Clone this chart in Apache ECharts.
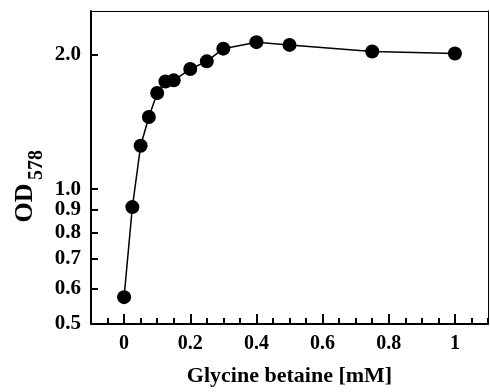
<!DOCTYPE html>
<html><head><meta charset="utf-8">
<script src="https://cdn.jsdelivr.net/npm/echarts@6/dist/echarts.min.js"></script>
<style>html,body{margin:0;padding:0;background:#fff}#c{width:490px;height:392px}</style>
</head><body><div id="c"></div>
<script>
const conc = [0, 0.025, 0.05, 0.075, 0.1, 0.125, 0.15, 0.2, 0.25, 0.3, 0.4, 0.5, 0.75, 1.0];
const od = [0.574, 0.912, 1.25, 1.45, 1.64, 1.74, 1.75, 1.855, 1.93, 2.06, 2.13, 2.10, 2.03, 2.01];
const xTicks = [0, 0.2, 0.4, 0.6, 0.8, 1];
const yTicks = [0.5, 0.6, 0.7, 0.8, 0.9, 1.0, 2.0];
const xTitle = 'Glycine betaine [mM]';

const font = '"Liberation Serif", "Times New Roman", serif';
const chart = echarts.init(document.getElementById('c'), null, {renderer: 'canvas'});
chart.setOption({
  animation: false,
  backgroundColor: '#fff',
  grid: {left: 91, right: 2, top: 11, bottom: 60, show: false},
  xAxis: [{
    type: 'value', min: -0.1, max: 1.1, position: 'bottom', offset: 0,
    axisLine: {show: true, onZero: false, lineStyle: {color: '#000', width: 2}},
    axisTick: {show: true, inside: true, length: 10, customValues: xTicks, lineStyle: {color: '#000', width: 2}},
    axisLabel: {show: true, customValues: xTicks, margin: 10, color: '#000', fontFamily: font, fontWeight: 'bold', fontSize: 20,
      formatter: v => String(v)},
    splitLine: {show: false},
    name: xTitle, nameLocation: 'middle', nameGap: 41,
    nameTextStyle: {color: '#000', fontFamily: font, fontWeight: 'bold', fontSize: 22}
  }, {
    type: 'value', min: -0.1, max: 1.1, interval: 0.05, position: 'bottom', offset: 0,
    axisLine: {show: false, onZero: false},
    axisTick: {show: true, inside: true, length: 6, lineStyle: {color: '#000', width: 2}},
    axisLabel: {show: false},
    splitLine: {show: false}
  }, {
    type: 'value', min: -0.1, max: 1.1, position: 'top',
    axisLine: {show: true, onZero: false, lineStyle: {color: '#000', width: 1}},
    axisTick: {show: false}, axisLabel: {show: false}, splitLine: {show: false}
  }],
  yAxis: [{
    type: 'log', logBase: 10, min: 0.5, max: 2.5,
    axisLine: {show: true, onZero: false, lineStyle: {color: '#000', width: 2}},
    axisTick: {show: true, inside: true, length: 7, customValues: yTicks, lineStyle: {color: '#000', width: 2}},
    axisLabel: {show: true, customValues: yTicks, margin: 10, color: '#000', fontFamily: font, fontWeight: 'bold', fontSize: 21,
      formatter: v => Number(v).toFixed(1)},
    minorTick: {show: false},
    splitLine: {show: false}
  }, {
    type: 'log', logBase: 10, min: 0.5, max: 2.5, position: 'right',
    axisLine: {show: true, onZero: false, lineStyle: {color: '#000', width: 1}},
    axisTick: {show: false}, axisLabel: {show: false}, splitLine: {show: false}, minorTick: {show: false}
  }],
  graphic: [
    {type: 'text', x: 25, y: 203, rotation: Math.PI / 2,
      style: {text: 'OD', fill: '#000', font: 'bold 26px ' + font, align: 'center', verticalAlign: 'middle'}},
    {type: 'text', x: 37, y: 165, rotation: Math.PI / 2,
      style: {text: '578', fill: '#000', font: 'bold 20px ' + font, align: 'center', verticalAlign: 'middle'}}
  ],
  series: [{
    type: 'line', xAxisIndex: 0, yAxisIndex: 0,
    data: conc.map((x, i) => [x, od[i]]),
    symbol: 'circle', symbolSize: 14,
    lineStyle: {color: '#000', width: 1.5},
    itemStyle: {color: '#000'}
  }]
});
</script></body></html>
